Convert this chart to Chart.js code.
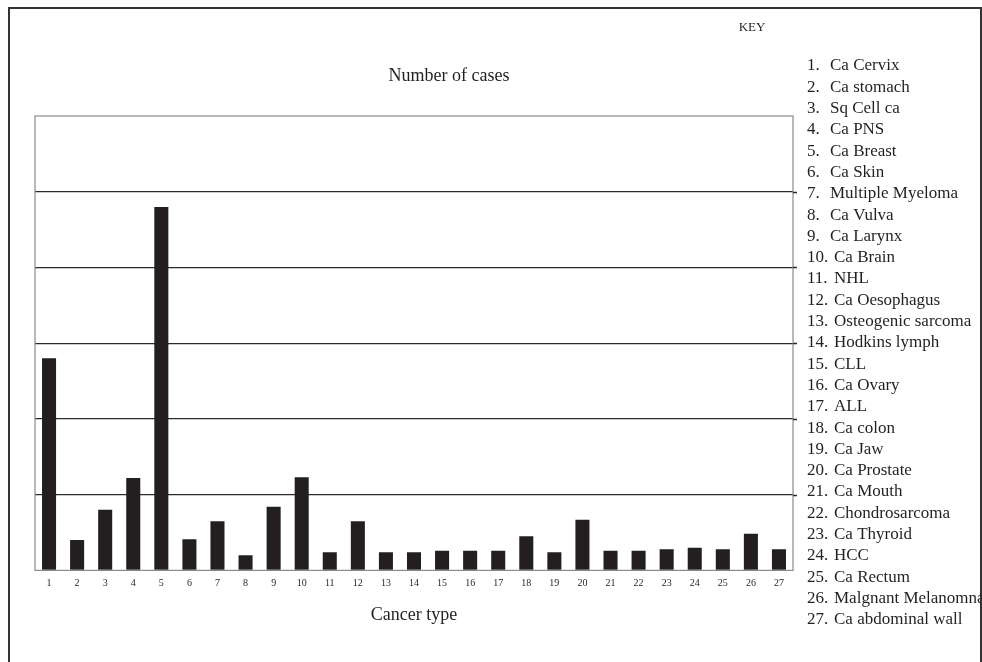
<!DOCTYPE html>
<html>
<head>
<meta charset="utf-8">
<script src="https://cdn.jsdelivr.net/npm/chart.js@4/dist/chart.umd.min.js"></script>
<style>
html,body{margin:0;padding:0;background:#fff;}
#wrap{position:relative;width:982px;height:662px;}
canvas{display:block;}
</style>
</head>
<body>
<div id="wrap"><canvas id="c" width="982" height="662"></canvas></div>
<script>
const tickLabels = ['1','2','3','4','5','6','7','8','9','10','11','12','13','14','15','16','17','18','19','20','21','22','23','24','25','26','27'];
const cancerTypes = ['Ca Cervix','Ca stomach','Sq Cell ca','Ca PNS','Ca Breast','Ca Skin','Multiple Myeloma','Ca Vulva','Ca Larynx','Ca Brain','NHL','Ca Oesophagus','Osteogenic sarcoma','Hodkins lymph','CLL','Ca Ovary','ALL','Ca colon','Ca Jaw','Ca Prostate','Ca Mouth','Chondrosarcoma','Ca Thyroid','HCC','Ca Rectum','Malgnant Melanomna','Ca abdominal wall'];
const cases = [28, 4, 8, 12.2, 48, 4.1, 6.5, 2, 8.4, 12.3, 2.4, 6.5, 2.4, 2.4, 2.6, 2.6, 2.6, 4.5, 2.4, 6.7, 2.6, 2.6, 2.8, 3.0, 2.8, 4.85, 2.8];
const yMax = 60;
const yStep = 10;

const SERIF = '"Liberation Serif", "DejaVu Serif", serif';
const INK = '#231f20';

const decor = {
  id: 'decor',
  beforeDraw(chart) {
    const ctx = chart.ctx;
    ctx.save();
    ctx.fillStyle = '#fff';
    ctx.fillRect(0, 0, chart.width, chart.height);
    ctx.restore();
  },
  afterDraw(chart) {
    const ctx = chart.ctx;
    const a = chart.chartArea;
    ctx.save();
    // outer frame
    ctx.strokeStyle = '#333';
    ctx.lineWidth = 2;
    ctx.beginPath();
    ctx.moveTo(9, 662); ctx.lineTo(9, 8); ctx.lineTo(982, 8);
    ctx.moveTo(981, 8); ctx.lineTo(981, 662);
    ctx.stroke();
    // plot area frame
    ctx.strokeStyle = '#8a8a8a';
    ctx.lineWidth = 1.2;
    ctx.strokeRect(a.left, a.top, a.right - a.left, a.bottom - a.top);
    // gridline overhang past the right edge, as in the original figure
    const ys = chart.scales.y;
    ctx.strokeStyle = '#2a2a2a';
    ctx.lineWidth = 1.3;
    ctx.beginPath();
    for (let v = yStep; v < yMax; v += yStep) {
      const y = Math.round(ys.getPixelForValue(v)) + 0.5;
      ctx.moveTo(a.right, y); ctx.lineTo(a.right + 4, y);
    }
    ctx.stroke();
    // texts
    ctx.fillStyle = INK;
    ctx.textBaseline = 'middle';
    ctx.textAlign = 'center';
    ctx.font = '18px ' + SERIF;
    ctx.fillText('Number of cases', 449, 76);
    ctx.font = '13px ' + SERIF;
    ctx.fillText('KEY', 752, 28);
    ctx.textAlign = 'left';
    ctx.font = '17px ' + SERIF;
    cancerTypes.forEach((name, i) => {
      const y = 66 + i * 21.3;
      const num = tickLabels[i] + '.';
      ctx.fillText(num, 807, y);
      const nx = i < 9 ? 830 : 834;
      ctx.fillText(name, nx, y);
    });
    ctx.restore();
  }
};

new Chart(document.getElementById('c'), {
  type: 'bar',
  data: {
    labels: tickLabels,
    datasets: [{
      data: cases,
      backgroundColor: INK,
      borderWidth: 0,
      barPercentage: 0.5,
      categoryPercentage: 1.0
    }]
  },
  options: {
    responsive: false,
    animation: false,
    layout: { padding: { left: 35, top: 116, right: 189, bottom: 36 } },
    plugins: { legend: { display: false }, tooltip: { enabled: false }, title: { display: false } },
    scales: {
      x: {
        grid: { display: false, drawTicks: false },
        border: { display: false },
        ticks: { color: INK, font: { family: SERIF, size: 10 }, padding: 7, maxRotation: 0, autoSkip: false },
        title: { display: true, text: 'Cancer type', color: INK, font: { family: SERIF, size: 18 }, padding: { top: 8, bottom: 0 } }
      },
      y: {
        min: 0, max: yMax,
        ticks: { display: false, stepSize: yStep },
        border: { display: false },
        grid: {
          drawTicks: false,
          color: (c) => (c.tick && (c.tick.value === 0 || c.tick.value === yMax)) ? 'rgba(0,0,0,0)' : '#2a2a2a',
          lineWidth: 1.3
        }
      }
    }
  },
  plugins: [decor]
});
</script>
</body>
</html>
